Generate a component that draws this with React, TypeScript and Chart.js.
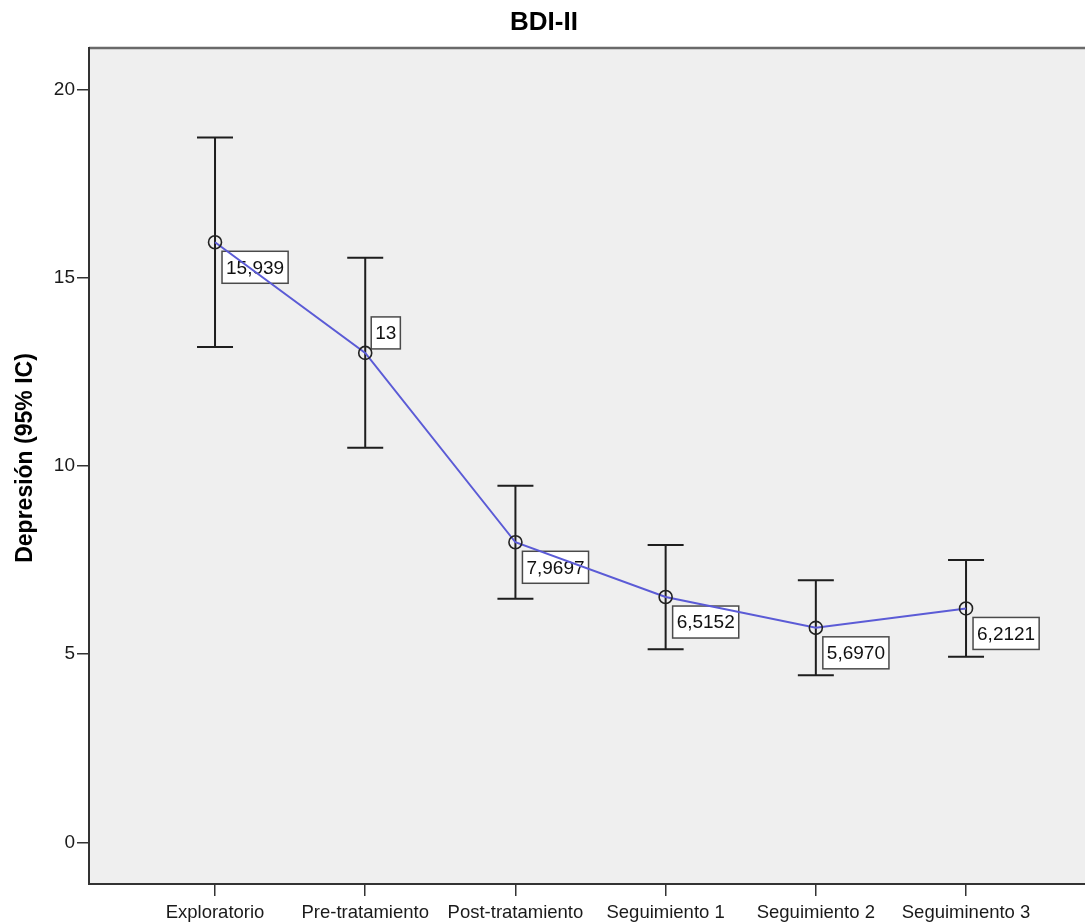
import React, { useEffect, useRef } from 'react';
import { Chart, registerables } from 'chart.js';

Chart.register(...registerables);

const chartTitle = 'BDI-II';
const yAxisTitle = 'Depresión (95% IC)';
const categories = ['Exploratorio', 'Pre-tratamiento', 'Post-tratamiento', 'Seguimiento 1', 'Seguimiento 2', 'Seguiminento 3'];
const means = [15.939, 13, 7.9697, 6.5152, 5.697, 6.2121];
const upperCI = [18.72, 15.53, 9.47, 7.9, 6.96, 7.5];
const lowerCI = [13.16, 10.48, 6.47, 5.13, 4.44, 4.93];
const meanLabels = ['15,939', '13', '7,9697', '6,5152', '5,6970', '6,2121'];
const yTicks = [0, 5, 10, 15, 20];

const FONT = "'Liberation Sans', Arial, sans-serif";

const spssPlugin = {
  id: 'spssDecor',
  beforeDraw(chart: any) {
    const { ctx, chartArea: a } = chart;
    ctx.save();
    ctx.fillStyle = '#efefef';
    ctx.fillRect(a.left, a.top, a.right - a.left, a.bottom - a.top);
    ctx.strokeStyle = '#6a6a6a';
    ctx.lineWidth = 2.5;
    ctx.beginPath();
    ctx.moveTo(a.left, a.top);
    ctx.lineTo(a.right, a.top);
    ctx.stroke();
    ctx.fillStyle = '#000';
    ctx.textAlign = 'center';
    ctx.textBaseline = 'middle';
    ctx.font = `bold 26px ${FONT}`;
    ctx.fillText(chartTitle, 544, 23);
    ctx.translate(26, 458);
    ctx.rotate(-Math.PI / 2);
    ctx.font = `bold 23px ${FONT}`;
    ctx.fillText(yAxisTitle, 0, 0);
    ctx.restore();
  },
  beforeDatasetsDraw(chart: any) {
    const { ctx } = chart;
    const xs = chart.scales.x;
    const ys = chart.scales.y;
    ctx.save();
    // error bars
    ctx.strokeStyle = '#1e1e1e';
    ctx.lineWidth = 2;
    categories.forEach((_, i) => {
      const x = xs.getPixelForValue(i);
      const yU = ys.getPixelForValue(upperCI[i]);
      const yL = ys.getPixelForValue(lowerCI[i]);
      ctx.beginPath();
      ctx.moveTo(x, yU);
      ctx.lineTo(x, yL);
      ctx.moveTo(x - 18, yU);
      ctx.lineTo(x + 18, yU);
      ctx.moveTo(x - 18, yL);
      ctx.lineTo(x + 18, yL);
      ctx.stroke();
    });
    // value labels
    ctx.font = `19px ${FONT}`;
    ctx.textBaseline = 'middle';
    ctx.textAlign = 'left';
    categories.forEach((_, i) => {
      const px = xs.getPixelForValue(i);
      const py = ys.getPixelForValue(means[i]);
      const text = meanLabels[i];
      const w = ctx.measureText(text).width + 8;
      const h = 32;
      const above = i === 1;
      const bx = px + (above ? 6 : 7);
      const by = above ? py - 4 - h : py + 9;
      ctx.fillStyle = '#ffffff';
      ctx.fillRect(bx, by, w, h);
      ctx.strokeStyle = '#4a4a4a';
      ctx.lineWidth = 1.5;
      ctx.strokeRect(bx, by, w, h);
      ctx.fillStyle = '#111';
      ctx.fillText(text, bx + 4, by + h / 2 + 1);
    });
    ctx.restore();
  },
};

export default function App() {
  const ref = useRef<HTMLCanvasElement>(null);
  useEffect(() => {
    if (!ref.current) return;
    const chart = new Chart(ref.current, {
      type: 'line',
      data: {
        datasets: [
          {
            data: means.map((m, i) => ({ x: i, y: m })),
            borderColor: '#5b5bd6',
            borderWidth: 2,
            pointRadius: 6.5,
            pointBorderWidth: 1.6,
            pointBorderColor: '#222',
            pointBackgroundColor: 'rgba(0,0,0,0)',
            tension: 0,
          },
        ],
      },
      options: {
        animation: false,
        responsive: false,
        layout: { autoPadding: false, padding: { top: 48, left: 0, right: 0, bottom: 0 } },
        plugins: {
          legend: { display: false },
          tooltip: { enabled: false },
          title: { display: false },
        },
        scales: {
          x: {
            type: 'linear',
            min: -0.839,
            max: 5.792,
            afterBuildTicks: (s: any) => {
              s.ticks = categories.map((_, i) => ({ value: i }));
            },
            afterFit: (s: any) => {
              s.height = 39;
            },
            ticks: {
              callback: (v: any) => categories[v] ?? '',
              font: { family: FONT, size: 18.5 },
              color: '#1a1a1a',
              padding: 6,
              maxRotation: 0,
              autoSkip: false,
            },
            grid: { drawOnChartArea: false, drawTicks: true, tickLength: 12, color: '#333', lineWidth: 1.5 },
            border: { color: '#333', width: 2 },
          },
          y: {
            type: 'linear',
            min: -1.108,
            max: 21.1,
            afterBuildTicks: (s: any) => {
              s.ticks = yTicks.map((v) => ({ value: v }));
            },
            afterFit: (s: any) => {
              s.width = 89;
            },
            ticks: {
              font: { family: FONT, size: 19 },
              color: '#1a1a1a',
              padding: 2,
            },
            grid: { drawOnChartArea: false, drawTicks: true, tickLength: 12, color: '#333', lineWidth: 1.5 },
            border: { color: '#333', width: 2 },
          },
        },
      },
      plugins: [spssPlugin],
    } as any);
    return () => chart.destroy();
  }, []);
  return (
    <div style={{ position: 'absolute', left: 0, top: 0, width: 1085, height: 923, background: '#fff' }}>
      <canvas ref={ref} width={1085} height={923} />
    </div>
  );
}
